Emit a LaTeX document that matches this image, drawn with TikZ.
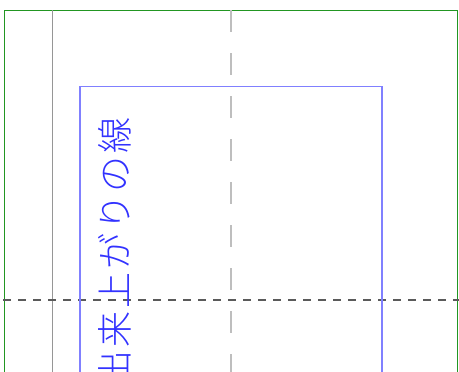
\documentclass[tikz,border=0pt]{standalone}
\usepackage{fontspec}
\IfFontExistsTF{Noto Sans CJK JP Light}
  {\newfontfamily\cjk{Noto Sans CJK JP Light}}
  {\newfontfamily\cjk{Noto Sans CJK JP}}
\definecolor{framegreen}{RGB}{34,150,34}
\definecolor{guidegray}{RGB}{150,150,150}
\definecolor{centergray}{RGB}{190,190,190}
\definecolor{foldgray}{RGB}{90,90,90}
\definecolor{lineblue}{RGB}{128,128,255}
\definecolor{textblue}{RGB}{50,50,255}
\tikzset{
  frame/.style={draw=framegreen, line width=1pt},
  guide/.style={draw=guidegray, line width=1pt},
  centerline/.style={draw=centergray, line width=1.4pt, dash pattern=on 22pt off 21pt},
  foldline/.style={draw=foldgray, line width=1.2pt, dash pattern=on 8pt off 7pt},
  finish/.style={draw=lineblue, line width=1.8pt},
  finishlabel/.style={text=textblue, font=\cjk\fontsize{36}{36}\selectfont, inner sep=0pt, rotate=90, anchor=east}
}
\begin{document}
\begin{tikzpicture}[x=1pt,y=1pt]
\useasboundingbox (0,0) rectangle (459,372);
\clip (0,0) rectangle (459,372);
\draw[frame] (4.5,-5) -- (4.5,361.5) -- (457.5,361.5) -- (457.5,-5);
\draw[guide] (52.3,361.5) -- (52.3,-5);
\draw[centerline] (231,361.5) -- (231,-5);
\draw[foldline] (3,72) -- (462,72);
\draw[finish] (80,-5) -- (80,285.5) -- (382,285.5) -- (382,-5);
\node[finishlabel] (label) at (115,255) {\addfontfeature{LetterSpace=8}出来上がりの線};
\end{tikzpicture}
\end{document}
